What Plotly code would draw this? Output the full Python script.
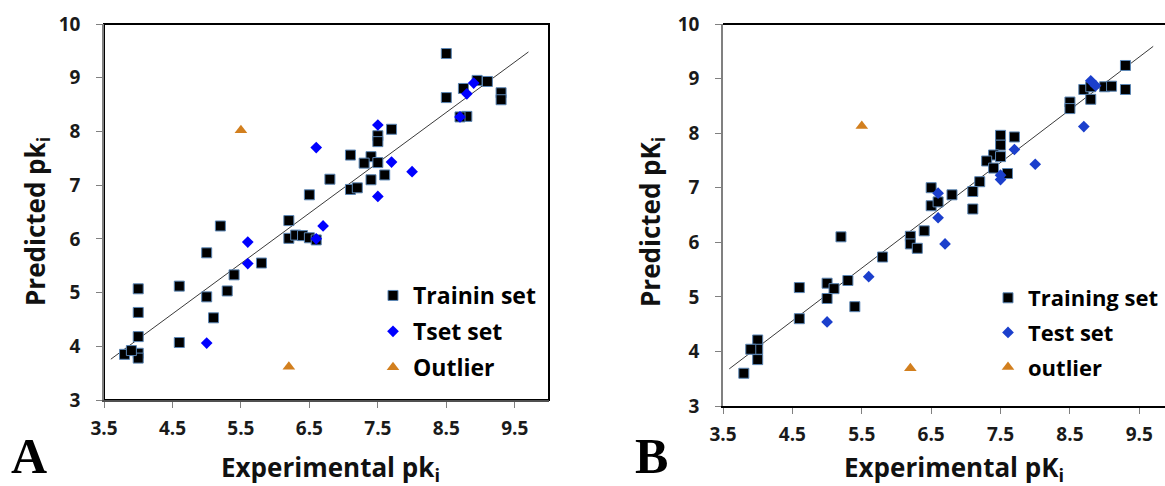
import plotly.graph_objects as go

# ---------------- Data ----------------
# Panel A
a_train_x = [8.5, 8.5, 8.75, 8.95, 9.1, 9.3, 9.3, 8.8, 8.7, 7.7, 7.5, 7.5, 7.1, 7.4, 7.3, 7.5, 7.4, 7.6,
             6.8, 7.1, 7.2, 6.5, 6.2, 6.2, 6.3, 6.4, 6.5, 6.6, 5.2, 5.0, 5.8, 5.4, 5.3, 5.0, 5.1, 4.6,
             4.6, 4.0, 4.0, 4.0, 4.0, 4.0, 3.8, 3.9]
a_train_y = [9.45, 8.63, 8.8, 8.95, 8.93, 8.72, 8.59, 8.28, 8.27, 8.04, 7.92, 7.81, 7.56, 7.53, 7.41, 7.42,
             7.1, 7.19, 7.11, 6.92, 6.95, 6.82, 6.34, 6.01, 6.07, 6.06, 6.02, 5.98, 6.24, 5.74, 5.55, 5.33,
             5.03, 4.92, 4.53, 5.12, 4.07, 5.07, 4.63, 4.18, 3.87, 3.78, 3.85, 3.92]
a_test_x = [8.9, 8.8, 8.7, 7.5, 6.6, 7.7, 8.0, 7.5, 6.7, 6.6, 5.6, 5.6, 5.0]
a_test_y = [8.9, 8.7, 8.27, 8.12, 7.7, 7.43, 7.25, 6.79, 6.24, 6.0, 5.94, 5.54, 4.06]
a_out_x = [5.5, 6.2]
a_out_y = [8.02, 3.62]
a_fit_x = [3.6, 9.7]
a_fit_y = [3.76, 9.48]

# Panel B
b_train_x = [9.3, 9.3, 8.7, 8.8, 8.8, 9.0, 9.1, 8.5, 8.5, 7.5, 7.5, 7.7, 7.4, 7.5, 7.3, 7.4, 7.6, 7.2,
             7.1, 6.5, 6.8, 6.5, 6.6, 7.1, 6.2, 6.2, 6.3, 6.4, 5.2, 5.8, 5.3, 5.0, 5.1, 5.0, 5.4, 4.6,
             4.6, 4.0, 4.0, 3.9, 4.0, 3.8]
b_train_y = [9.24, 8.8, 8.8, 8.62, 8.85, 8.85, 8.86, 8.57, 8.45, 7.96, 7.78, 7.93, 7.6, 7.57, 7.49, 7.36,
             7.26, 7.11, 6.93, 7.0, 6.87, 6.67, 6.74, 6.61, 6.11, 5.97, 5.89, 6.21, 6.1, 5.73, 5.3, 5.25,
             5.15, 4.97, 4.82, 5.17, 4.6, 4.21, 4.04, 4.04, 3.85, 3.6]
b_test_x = [8.8, 8.87, 8.7, 7.7, 8.0, 7.5, 7.5, 6.6, 6.6, 6.7, 5.6, 5.0]
b_test_y = [8.96, 8.87, 8.12, 7.7, 7.43, 7.23, 7.15, 6.9, 6.45, 5.97, 5.37, 4.54]
b_out_x = [5.5, 6.2]
b_out_y = [8.13, 3.69]
b_fit_x = [3.59, 9.7]
b_fit_y = [3.68, 9.59]

a_names = ["Trainin set", "Tset set", "Outlier"]
b_names = ["Training set", "Test set", "outlier"]
y_ticks = [3, 4, 5, 6, 7, 8, 9, 10]
x_ticks = [3.5, 4.5, 5.5, 6.5, 7.5, 8.5, 9.5]

# ---------------- Styling ----------------
W, H = 1165, 486
FONT = "Open Sans"
SQ = dict(symbol="square", size=10, color="black", line=dict(color="#5b86b5", width=1))
TRI = dict(symbol="triangle-up", size=11, color="#d27f1e", line=dict(width=0))


def px(x):
    return x / W


def py(y):
    return 1 - y / H


fig = go.Figure()

# Panel A
fig.add_trace(go.Scatter(x=a_fit_x, y=a_fit_y, mode="lines", line=dict(color="#3a3a3a", width=1),
                         showlegend=False, xaxis="x", yaxis="y", hoverinfo="skip"))
fig.add_trace(go.Scatter(x=a_train_x, y=a_train_y, mode="markers", marker=SQ, name=a_names[0],
                         legend="legend", legendgroup="a1", xaxis="x", yaxis="y"))
fig.add_trace(go.Scatter(x=a_test_x, y=a_test_y, mode="markers",
                         marker=dict(symbol="diamond", size=9, color="#0000ff", line=dict(width=0)),
                         name=a_names[1], legend="legend", legendgroup="a2", xaxis="x", yaxis="y"))
fig.add_trace(go.Scatter(x=a_out_x, y=a_out_y, mode="markers", marker=TRI, name=a_names[2],
                         legend="legend", legendgroup="a3", xaxis="x", yaxis="y"))

# Panel B
fig.add_trace(go.Scatter(x=b_fit_x, y=b_fit_y, mode="lines", line=dict(color="#3a3a3a", width=1),
                         showlegend=False, xaxis="x2", yaxis="y2", hoverinfo="skip"))
fig.add_trace(go.Scatter(x=b_train_x, y=b_train_y, mode="markers", marker=SQ, name=b_names[0],
                         legend="legend2", legendgroup="b1", xaxis="x2", yaxis="y2"))
fig.add_trace(go.Scatter(x=b_test_x, y=b_test_y, mode="markers",
                         marker=dict(symbol="diamond", size=9, color="#1b3fcc", line=dict(width=0)),
                         name=b_names[1], legend="legend2", legendgroup="b2", xaxis="x2", yaxis="y2"))
fig.add_trace(go.Scatter(x=b_out_x, y=b_out_y, mode="markers", marker=TRI, name=b_names[2],
                         legend="legend2", legendgroup="b3", xaxis="x2", yaxis="y2"))

tickfont = dict(family=FONT, size=19, color="#1a1a1a", weight="bold")
common_x = dict(tickmode="array", tickvals=x_ticks, ticktext=[f"{v:.1f}" for v in x_ticks],
                ticks="outside", ticklen=6, tickcolor="#808080", tickwidth=1,
                showline=True, linewidth=1.5, showgrid=False, zeroline=False, automargin=False,
                tickfont=tickfont, ticklabelstandoff=4)
common_y = dict(tickmode="array", tickvals=y_ticks, ticks="outside", ticklen=6, tickcolor="#808080",
                tickwidth=1, showline=True, linecolor="#808080", linewidth=1.5, showgrid=False,
                zeroline=False, automargin=False, tickfont=tickfont, ticklabelstandoff=12)

legend_font = dict(family=FONT, size=23, color="black", weight="bold")
legend_common = dict(bgcolor="rgba(0,0,0,0)", traceorder="grouped", tracegroupgap=3,
                     xanchor="left", yanchor="top", itemwidth=30)

fig.update_layout(
    width=W, height=H, margin=dict(l=0, r=0, t=0, b=0, autoexpand=False),
    paper_bgcolor="white", plot_bgcolor="white",
    xaxis=dict(domain=[px(104), px(549)], range=[3.5, 10], anchor="y", linecolor="#505050", **common_x),
    yaxis=dict(domain=[py(400), py(24)], range=[3, 10], anchor="x", **common_y),
    xaxis2=dict(domain=[px(723), 1.0], range=[3.5, 9.87], anchor="y2", linecolor="black", **common_x),
    yaxis2=dict(domain=[py(406), py(24)], range=[3, 10], anchor="x2", **common_y),
    legend=dict(x=px(373), y=py(274), font=legend_font, **legend_common),
    legend2=dict(x=px(988), y=py(277), font=dict(legend_font, size=22), **legend_common),
    showlegend=True,
)

# Plot-area borders (top/right), drawn beneath axis lines
fig.add_shape(type="rect", xref="x domain", yref="y domain", x0=0, x1=1, y0=0, y1=1,
              line=dict(color="black", width=2), layer="below")
fig.add_shape(type="line", xref="x2 domain", yref="y2 domain", x0=0, x1=1, y0=1, y1=1,
              line=dict(color="black", width=2), layer="below")

title_font = dict(family=FONT, size=26, color="#111111", weight="bold")
letter_font = dict(family="Liberation Serif", size=50, color="black", weight="bold")
ann = [
    dict(text="Experimental pk<sub>i</sub>", x=px(330), y=py(468), font=title_font),
    dict(text="Predicted pk<sub>i</sub>", x=px(36), y=py(222), font=title_font, textangle=-90),
    dict(text="Experimental pK<sub>i</sub>", x=px(954), y=py(468), font=title_font),
    dict(text="Predicted pK<sub>i</sub>", x=px(651), y=py(222), font=title_font, textangle=-90),
    dict(text="A", x=px(29), y=py(456), font=letter_font),
    dict(text="B", x=px(651), y=py(456), font=letter_font),
]
for a in ann:
    fig.add_annotation(xref="paper", yref="paper", showarrow=False, xanchor="center", yanchor="middle", **a)

fig.write_html("out.html", config={"displayModeBar": False},
               post_script="document.body.style.margin='0';document.body.style.overflow='hidden';")
